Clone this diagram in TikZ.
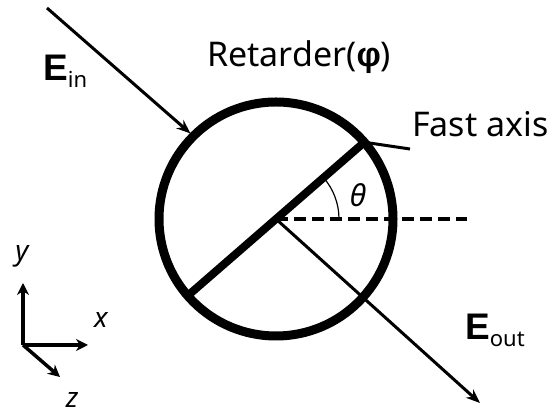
\documentclass[tikz,border=0pt]{standalone}
\usepackage{fontspec}
\setmainfont{Noto Sans}
\newfontfamily\boldsans{Liberation Sans}
\usetikzlibrary{arrows.meta}
\tikzset{
 plate/.style={line width=9pt},
 ray/.style={line width=3pt,-{Stealth[length=14pt,width=11pt]}},
 axis/.style={line width=3.5pt,-{Stealth[length=12pt,width=12pt]}},
 lbl/.style={inner sep=0pt,font=\fontsize{34}{40}\selectfont},
 field/.style={inner sep=0pt,font=\fontsize{37}{42}\selectfont},
 axlbl/.style={inner sep=0pt,font=\fontsize{28}{34}\selectfont\itshape}
}
\newcommand{\fld}[2]{{\boldsans\bfseries #1}\raisebox{-7pt}{\fontsize{22}{26}\selectfont #2}}

\begin{document}
\begin{tikzpicture}[x=1pt,y=1pt]
 \useasboundingbox (0,0) rectangle (552,417);
 \coordinate (c) at (276,198);
 \draw[plate] (c) circle (117);
 \draw[line width=8pt] (c) ++(221:117) coordinate (fa1) -- (c) -- ++(41:117) coordinate (fa2);
 \draw[line width=3.5pt,dash pattern=on 12pt off 6pt] (c) -- (467,198) coordinate (dend);
 \draw[line width=1.2pt] (c) ++(0:63) arc (0:41:63);
 \node[inner sep=0pt] (th) at (358,222) {\fontsize{30}{34}\selectfont\itshape θ};
 \node[lbl,anchor=base west] (ret) at (207,350) {Retarder({\boldsans\bfseries φ})};
 \node[lbl,anchor=base west] (fast) at (412,280) {Fast axis};
 \coordinate (fl) at (410,268);
 \draw[line width=3pt] (fa2) -- (fl);
 \coordinate (ein) at (47,409);
 \path (c) ++(135:121) coordinate (tip);
 \draw[ray] (ein) -- (tip);
 \coordinate (eout) at (480,14);
 \draw[ray] (c) -- (eout);
 \node[field,anchor=base west] (lin) at (43,336) {\fld{E}{in}};
 \node[field,anchor=base west] (lout) at (465,77) {\fld{E}{out}};
 % coordinate axes
 \coordinate (o) at (23,72);
 \draw[axis] (o) -- (23,134) coordinate (ytip);
 \draw[axis] (o) -- (88,72) coordinate (xtip);
 \draw[axis] (o) -- (60,40) coordinate (ztip);
 \node[axlbl] (ly) at (22,161) {y};
 \node[axlbl] (lx) at (101,97) {x};
 \node[axlbl] (lz) at (72,17) {z};
\end{tikzpicture}
\end{document}
